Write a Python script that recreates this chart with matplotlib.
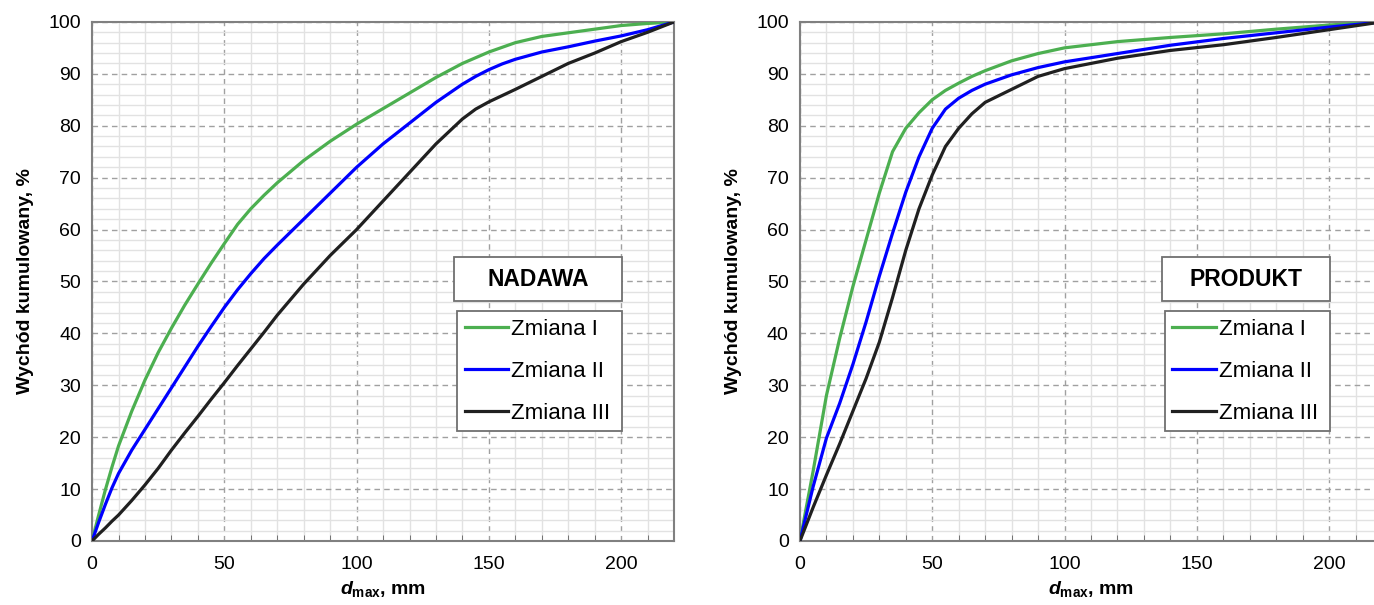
import numpy as np
import matplotlib
matplotlib.use('Agg')
import matplotlib.pyplot as plt
from matplotlib.patches import Rectangle
from matplotlib.ticker import MultipleLocator

plt.rcParams['font.family'] = ['Liberation Sans', 'DejaVu Sans']
plt.rcParams['mathtext.fontset'] = 'custom'
plt.rcParams['mathtext.it'] = 'Liberation Sans:italic:bold'
plt.rcParams['mathtext.rm'] = 'Liberation Sans:bold'
plt.rcParams['mathtext.bf'] = 'Liberation Sans:bold'

# NADAWA (feed)
x_feed = [0, 2.5, 5, 7.5, 10, 15, 20, 25, 30, 35, 40, 45, 50, 55, 60, 65, 70,
          80, 90, 100, 110, 120, 130, 140, 145, 150, 155, 160, 170, 180, 190,
          200, 210, 220]
feed_1 = [0, 5, 9.8, 14.2, 18.3, 25, 31, 36.3, 41, 45.4, 49.5, 53.5, 57.3, 61,
          64, 66.6, 69, 73.3, 77, 80.3, 83.3, 86.3, 89.3, 92, 93.1, 94.2, 95.1,
          96, 97.2, 97.9, 98.6, 99.3, 99.7, 100]
feed_2 = [0, 3.6, 7, 10.2, 13, 17.5, 21.5, 25.5, 29.5, 33.5, 37.5, 41.3, 45,
          48.4, 51.5, 54.4, 57, 62, 67, 72, 76.5, 80.5, 84.5, 88, 89.5, 90.8,
          91.9, 92.8, 94.2, 95.2, 96.3, 97.3, 98.5, 100]
feed_3 = [0, 1.3, 2.5, 3.8, 5, 7.8, 10.8, 14, 17.5, 20.8, 24, 27.3, 30.5, 33.8,
          37, 40.2, 43.5, 49.5, 55, 60, 65.5, 71, 76.5, 81.3, 83.2, 84.6, 85.8,
          87, 89.5, 92, 94, 96.2, 98, 100]

# PRODUKT (product)
x_prod = [0, 5, 10, 15, 20, 25, 30, 35, 40, 45, 50, 55, 60, 65, 70, 80, 90,
          100, 120, 140, 160, 180, 200, 220]
prod_1 = [0, 13.5, 28, 39, 49, 58, 67, 75, 79.5, 82.5, 85, 86.8, 88.2, 89.5,
          90.6, 92.5, 93.9, 95, 96.2, 97, 97.7, 98.6, 99.4, 100]
prod_2 = [0, 10.5, 19.8, 26.5, 34, 42.2, 51, 59.3, 67.2, 74, 79.5, 83.2, 85.3,
          86.8, 88, 89.8, 91.2, 92.3, 93.9, 95.5, 96.8, 97.9, 99, 100]
prod_3 = [0, 6.5, 12.7, 18.7, 25, 31.3, 38.3, 46.9, 56, 64, 70.5, 76, 79.5,
          82.3, 84.5, 87, 89.5, 91, 93, 94.5, 95.6, 97, 98.5, 100]

labels = ['Zmiana I', 'Zmiana II', 'Zmiana III']
colors = ['#4caf50', '#0000ff', '#202020']
titles = ['NADAWA', 'PRODUKT']


def style_axes(ax):
    ax.set_xlim(0, 220)
    ax.set_ylim(0, 100)
    ax.xaxis.set_major_locator(MultipleLocator(50))
    ax.xaxis.set_minor_locator(MultipleLocator(10))
    ax.yaxis.set_major_locator(MultipleLocator(10))
    ax.yaxis.set_minor_locator(MultipleLocator(2))
    ax.grid(which='minor', color='#e2e2e2', linewidth=1.0, linestyle='-')
    ax.grid(which='major', color='#a0a0a0', linewidth=1.0,
            linestyle=(0, (4, 3)))
    ax.set_axisbelow(True)
    for s in ax.spines.values():
        s.set_color('#808080')
        s.set_linewidth(1.5)
    ax.tick_params(axis='y', which='major', length=0, labelsize=14, pad=8)
    ax.tick_params(axis='x', which='major', length=0, labelsize=14, pad=11)
    ax.tick_params(axis='x', which='minor', direction='in', length=4,
                   color='#606060', bottom=True)
    ax.tick_params(axis='y', which='minor', length=0)
    ax.set_xlabel(r'$d_{\mathrm{max}}$, mm', fontsize=14, fontweight='bold',
                  labelpad=4)
    ax.set_ylabel('Wychód kumulowany, %', fontsize=14, fontweight='bold',
                  labelpad=10)


def add_boxes(ax, title):
    ax.add_patch(Rectangle((0.622, 0.462), 0.289, 0.085,
                           transform=ax.transAxes, facecolor='white',
                           edgecolor='#707070', linewidth=1.3, zorder=5))
    ax.text(0.7665, 0.5045, title, transform=ax.transAxes, ha='center',
            va='center', fontsize=16.5, fontweight='bold', zorder=6)
    leg = ax.legend(loc='upper left', bbox_to_anchor=(0.627, 0.243, 0.284, 0.2),
                    mode='expand', fontsize=16, frameon=True, fancybox=False,
                    edgecolor='#707070', framealpha=1, handlelength=1.95,
                    handletextpad=0.15, labelspacing=0.95, borderpad=0.34,
                    borderaxespad=0)
    leg.get_frame().set_linewidth(1.3)
    leg.set_zorder(6)


fig = plt.figure(figsize=(13.74, 6.05), dpi=100)
ax1 = fig.add_axes([0.067, 0.1058, 0.4236, 0.858])
ax2 = fig.add_axes([0.5822, 0.1058, 0.4236, 0.858])

for ys, lab, c in zip([feed_1, feed_2, feed_3], labels, colors):
    ax1.plot(x_feed, ys, color=c, linewidth=2.3, label=lab, zorder=3)
for ys, lab, c in zip([prod_1, prod_2, prod_3], labels, colors):
    ax2.plot(x_prod, ys, color=c, linewidth=2.3, label=lab, zorder=3)

for ax, t in zip([ax1, ax2], titles):
    style_axes(ax)
    add_boxes(ax, t)

fig.savefig('out.png', dpi=100)
